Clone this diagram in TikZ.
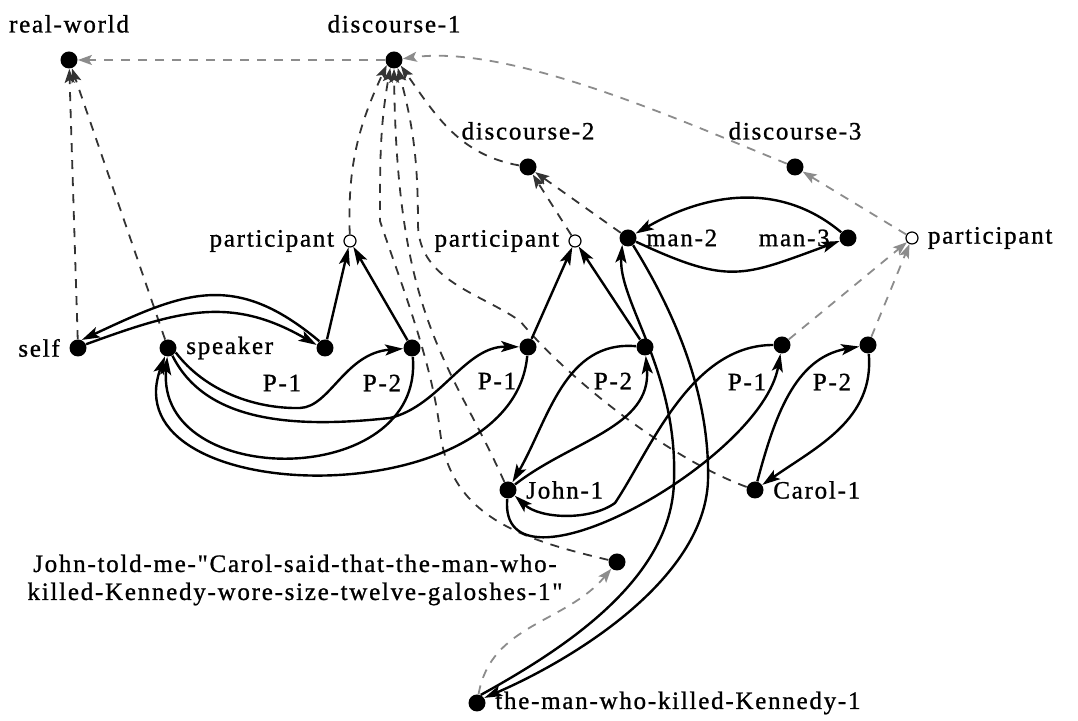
\documentclass[tikz,border=0pt]{standalone}
\usepackage{fontspec}
\setmainfont{Liberation Serif}[LetterSpace=7, Ligatures=TeXOff, FakeBold=1]
\usepackage{tikz}
\usetikzlibrary{arrows.meta}
\tikzstyle{dot} = [circle, fill=black, inner sep=0pt, minimum size=8.5pt]
\tikzstyle{hollow} = [circle, draw=black, line width=0.6pt, fill=white, inner sep=0pt, minimum size=6pt]
\tikzstyle{lbl} = [inner sep=1pt, font=\fontsize{12.5}{14}\selectfont]
\tikzstyle{role} = [line width=1.2pt, -{Stealth[length=9pt,width=5.5pt,inset=2pt]}]
\tikzstyle{ctx} = [draw=black!80, line width=0.9pt, dash pattern=on 4.5pt off 4pt, -{Stealth[length=7pt,width=5pt,inset=1.5pt]}]
\tikzstyle{ctxlight} = [ctx, draw=black!45]

\begin{document}
\begin{tikzpicture}[x=0.5pt, y=0.5pt, label distance=3.5pt, every label/.style={lbl}]
    \useasboundingbox (0,0) rectangle (1078,721);

    % contexts
    \node (rw) [dot, label={[label distance=8pt]above:real-world}] at (69,661) {};
    \node (d1) [dot, label={[label distance=8pt]above:discourse-1}] at (394,661) {};
    \node (d2) [dot, label={[label distance=8pt]above:discourse-2}] at (528,554) {};
    \node (d3) [dot, label={[label distance=8pt]above:discourse-3}] at (795,554) {};

    \node (pa) [hollow, label=left:participant] at (350,480) {};
    \node (pb) [hollow, label=left:participant] at (575,480) {};
    \node (m2) [dot, label=right:man-2] at (628,483) {};
    \node (m3) [dot, label=left:man-3] at (848,483) {};
    \node (pc) [hollow, label=right:participant] at (912,483) {};

    \node (self) [dot, label=left:self] at (78,373) {};
    \node (spk) [dot, label=right:speaker] at (168,373) {};
    \node (p1s) [dot] at (325,373) {};
    \node (p2s) [dot] at (412,373) {};
    \node (p1j) [dot] at (528,374) {};
    \node (p2j) [dot] at (645,374) {};
    \node (p1c) [dot] at (782,376) {};
    \node (p2c) [dot] at (868,376) {};

    \node (lp1s) [lbl] at (282,338) {P-1};
    \node (lp2s) [lbl] at (382,338) {P-2};
    \node (lp1j) [lbl] at (497,340) {P-1};
    \node (lp2j) [lbl] at (613,340) {P-2};
    \node (lp1c) [lbl] at (747,339) {P-1};
    \node (lp2c) [lbl] at (832,339) {P-2};

    \node (john) [dot, label=right:John-1] at (508,231) {};
    \node (carol) [dot, label=right:Carol-1] at (755,231) {};
    \node (jtm) [dot] at (617,159) {};
    \node (jtmtext) [lbl, align=center] at (295,141) {John-told-me-"Carol-said-that-the-man-who-\\killed-Kennedy-wore-size-twelve-galoshes-1"};
    \node (tmk) [dot, label=right:the-man-who-killed-Kennedy-1] at (477,18) {};

    % dashed context links
    \draw [ctxlight] (d1) -- (rw);
    \draw [ctx] (self) -- (rw);
    \draw [ctx] (spk) -- (rw);
    \draw [ctx] (pa) to[out=92,in=-115] (d1.-145);
    \draw [ctx] (d2) to[out=170,in=-55] (d1.-40);
    \draw [ctxlight] (d3) to[out=158,in=8,looseness=0.7] (d1);
    \draw [ctx] (pb) -- (d2);
    \draw [ctx] (m2) -- (d2);
    \draw [ctxlight] (pc) -- (d3);
    \draw [ctxlight] (p1c) -- (pc);
    \draw [ctxlight] (p2c) -- (pc);
    \draw [ctx] (john) .. controls (450,360) and (397,400) .. (d1.-90);
    \draw [ctx] (carol) .. controls (670,262) and (570,340) .. (520,400)
        .. controls (480,428) and (420,440) .. (418,495) to[out=90,in=-75] (d1.-65);
    \draw [ctx] (jtm) .. controls (520,182) and (450,205) .. (440,290)
        .. controls (432,360) and (400,440) .. (380,500) to[out=90,in=-100] (d1.-115);
    \draw [ctxlight] (tmk) to[out=80,in=-130] (jtm);

    % roles
    \draw [role] (self.25) to[out=20,in=150,looseness=1.1] (p1s.160);
    \draw [role] (p1s.130) to[out=140,in=25,looseness=1.2] (self.65);
    \draw [role] (spk.-30) .. controls (205,330) and (255,312) .. (300,313)
        .. controls (330,314) and (345,368) .. (p2s);
    \draw [role] (p2s) to[out=-85,in=-95,looseness=1.4] (spk);
    \draw [role] (spk.-60) .. controls (205,300) and (290,292) .. (390,303)
        .. controls (440,315) and (465,375) .. (p1j);
    \draw [role] (p1j) to[out=-95,in=-110,looseness=1.15] (spk);
    \draw [role] (p1s) -- (pa);
    \draw [role] (p2s) -- (pa);
    \draw [role] (p1j) -- (pb);
    \draw [role] (p2j) -- (pb);
    \draw [role] (p2j) to[out=175,in=60] (john);
    \draw [role] (john) to[out=38,in=-85] (p2j);
    \draw [role] (p1c) .. controls (690,376) and (650,270) .. (615,218)
        .. controls (590,200) and (540,202) .. (john.-40);
    \draw [role] (john) to[out=-95,in=-100,looseness=0.9] (p1c);
    \draw [role] (carol) to[out=75,in=190] (p2c);
    \draw [role] (p2c) to[out=-85,in=35] (carol);
    \draw [role] (m3) to[out=140,in=30] (m2);
    \draw [role] (m2) to[out=-25,in=-160,looseness=1.3] (m3);
    \draw [role] (m2.-55) .. controls (680,400) and (710,320) .. (708,240)
        .. controls (704,140) and (570,60) .. (tmk.35);
    \draw [role] (tmk.65) .. controls (560,70) and (672,140) .. (674,240)
        .. controls (678,350) and (618,420) .. (m2.-130);
\end{tikzpicture}
\end{document}
